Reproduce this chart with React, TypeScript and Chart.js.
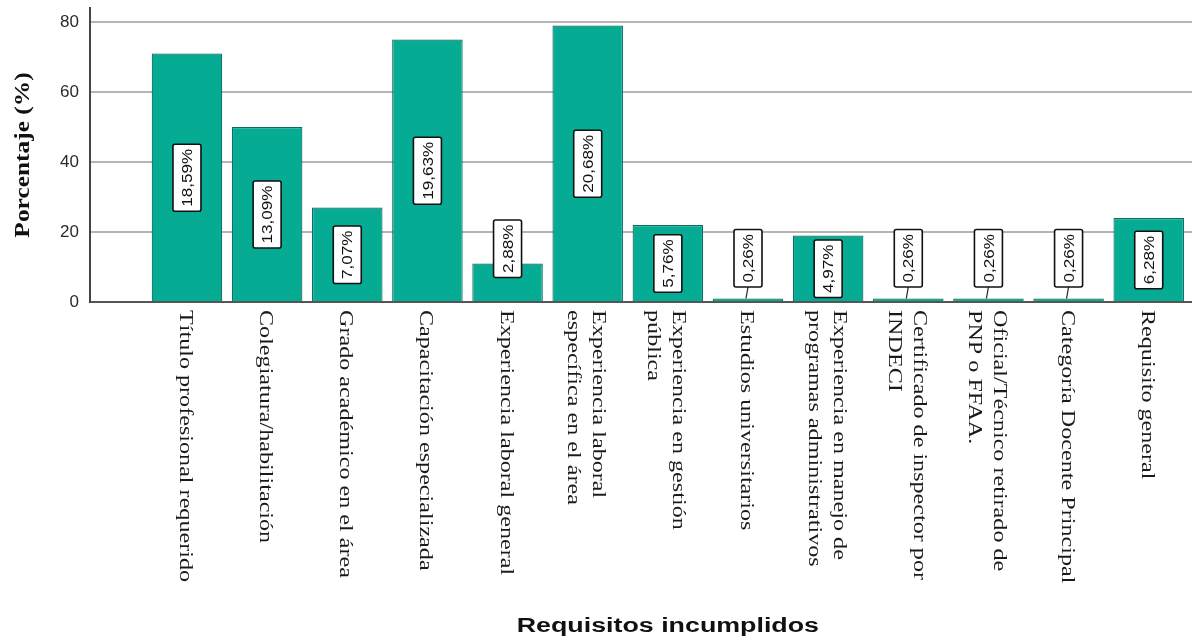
import React, { useEffect, useRef } from "react";
import { Chart, registerables } from "chart.js";

Chart.register(...registerables);

const categories: string[] = [
  "Título profesional requerido",
  "Colegiatura/habilitación",
  "Grado académico en el área",
  "Capacitación especializada",
  "Experiencia laboral general",
  "Experiencia laboral\nespecífica en el área",
  "Experiencia en gestión\npública",
  "Estudios universitarios",
  "Experiencia en manejo de\nprogramas administrativos",
  "Certificado de inspector por\nINDECI",
  "Oficial/Técnico retirado de\nPNP o FFAA.",
  "Categoría Docente Principal",
  "Requisito general",
];
const counts: number[] = [71, 50, 27, 75, 11, 79, 22, 1, 19, 1, 1, 1, 24];
const percentLabels: string[] = [
  "18,59%", "13,09%", "7,07%", "19,63%", "2,88%", "20,68%", "5,76%",
  "0,26%", "4,97%", "0,26%", "0,26%", "0,26%", "6,28%",
];
const yTicks: number[] = [0, 20, 40, 60, 80];
const yAxisTitle = "Porcentaje (%)";
const xAxisTitle = "Requisitos incumplidos";

const textPlugin = {
  id: "customText",
  afterDatasetsDraw(chart: any) {
    const ctx = chart.ctx;
    const meta = chart.getDatasetMeta(0);
    const base = chart.scales.y.getPixelForValue(0);
    ctx.save();
    ctx.font = '15px "Liberation Sans"';
    const k = 1.14;
    meta.data.forEach((bar: any, i: number) => {
      const text = percentLabels[i];
      const cx = bar.x;
      const top = bar.y;
      const tw = ctx.measureText(text).width * k;
      const h = tw + 9;
      const w = 28;
      const barH = base - top;
      let cy: number;
      let boxBottom: number;
      if (barH >= h + 6) {
        cy = (top + base) / 2;
        boxBottom = cy + h / 2;
      } else {
        boxBottom = Math.min(top + 14, base - 15);
        cy = boxBottom - h / 2;
      }
      if (boxBottom < top - 1) {
        ctx.beginPath();
        ctx.strokeStyle = "#222";
        ctx.lineWidth = 1.2;
        ctx.moveTo(cx, boxBottom);
        ctx.lineTo(cx - 2, top);
        ctx.stroke();
      }
      ctx.beginPath();
      ctx.fillStyle = "#ffffff";
      ctx.strokeStyle = "#111";
      ctx.lineWidth = 1.6;
      ctx.roundRect(cx - w / 2, cy - h / 2, w, h, 2);
      ctx.fill();
      ctx.stroke();
      ctx.save();
      ctx.translate(cx, cy);
      ctx.rotate(-Math.PI / 2);
      ctx.scale(k, 1);
      ctx.fillStyle = "#111";
      ctx.textAlign = "center";
      ctx.textBaseline = "middle";
      ctx.fillText(text, 0, 1);
      ctx.restore();
    });
    ctx.restore();
  },
  afterDraw(chart: any) {
    const ctx = chart.ctx;
    const xs = chart.scales.x;
    const area = chart.chartArea;
    // x tick labels (rotated clockwise)
    ctx.save();
    ctx.font = '19px "Liberation Serif"';
    ctx.fillStyle = "#1a1a1a";
    ctx.textAlign = "left";
    ctx.textBaseline = "middle";
    categories.forEach((label, i) => {
      const lines = label.split("\n");
      const px = xs.getPixelForValue(i);
      ctx.save();
      ctx.translate(px, area.bottom + 8);
      ctx.rotate(Math.PI / 2);
      ctx.scale(1.27, 1);
      lines.forEach((ln, j) => {
        ctx.fillText(ln, 0, (j - (lines.length - 1) / 2) * 25 + 2);
      });
      ctx.restore();
    });
    ctx.restore();

    // x axis title
    ctx.save();
    const tx = (xs.getPixelForValue(-0.5) + xs.getPixelForValue(categories.length - 0.5)) / 2;
    ctx.translate(tx, 626);
    ctx.scale(1.34, 1);
    ctx.font = 'bold 20px "Liberation Sans"';
    ctx.fillStyle = "#111";
    ctx.textAlign = "center";
    ctx.textBaseline = "middle";
    ctx.fillText(xAxisTitle, 0, 0);
    ctx.restore();

    // y axis title
    ctx.save();
    ctx.translate(24, (area.top + area.bottom) / 2);
    ctx.rotate(-Math.PI / 2);
    ctx.scale(1.27, 1);
    ctx.font = 'bold 20px "Liberation Serif"';
    ctx.fillStyle = "#111";
    ctx.textAlign = "center";
    ctx.textBaseline = "middle";
    ctx.fillText(yAxisTitle, 0, 0);
    ctx.restore();
  },
};

export default function App() {
  const canvasRef = useRef<HTMLCanvasElement | null>(null);

  useEffect(() => {
    document.body.style.margin = "0";
    const canvas = canvasRef.current;
    if (!canvas) return;
    const chart = new Chart(canvas, {
      type: "bar",
      data: {
        datasets: [
          {
            data: counts.map((v, i) => ({ x: i, y: v })),
            backgroundColor: "#05ac93",
            borderColor: "#0b7062",
            borderWidth: 1.2,
            barPercentage: 0.88,
            categoryPercentage: 1,
          },
        ],
      },
      options: {
        animation: false,
        responsive: true,
        maintainAspectRatio: false,
        layout: { padding: { top: 8, right: 0, bottom: 0, left: 0 } },
        plugins: {
          legend: { display: false },
          tooltip: { enabled: false },
        },
        scales: {
          x: {
            type: "linear",
            offset: false,
            min: -1.21,
            max: 12.54,
            ticks: { display: false, stepSize: 1 },
            grid: { display: false },
            border: { display: true, color: "#555", width: 2 },
            afterFit: (s: any) => {
              s.height = 342;
              s.paddingLeft = 0;
              s.paddingRight = 0;
            },
          },
          y: {
            min: 0,
            max: 84,
            afterBuildTicks: (s: any) => {
              s.ticks = yTicks.map((v) => ({ value: v }));
            },
            ticks: {
              padding: 11,
              color: "#2a2a2a",
              font: { family: "Liberation Sans", size: 17 },
            },
            grid: { color: "#b4b4b4", lineWidth: 2, drawTicks: false },
            border: { display: true, color: "#444", width: 2 },
            afterFit: (s: any) => {
              s.width = 90;
              s.paddingTop = 0;
              s.paddingBottom = 0;
            },
          },
        },
      },
      plugins: [textPlugin],
    });
    return () => chart.destroy();
  }, []);

  return (
    <div style={{ width: 1192, height: 644, position: "relative" }}>
      <canvas ref={canvasRef} />
    </div>
  );
}
